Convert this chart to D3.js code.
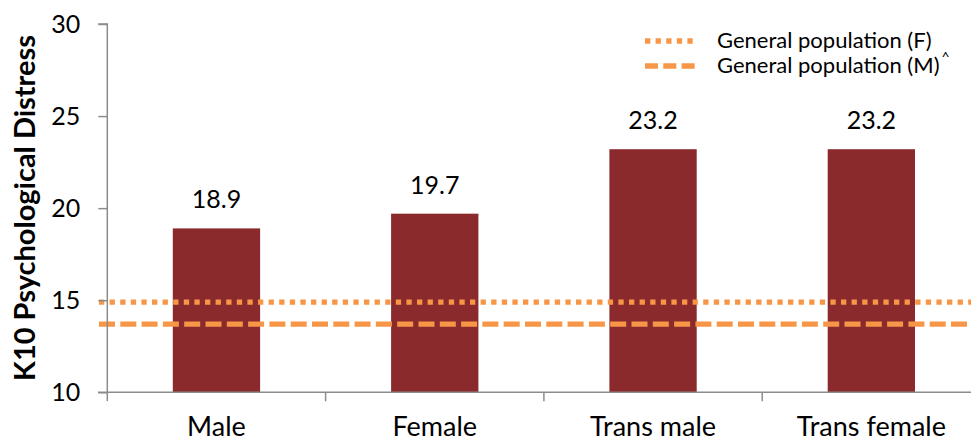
<!DOCTYPE html>
<html><head><meta charset="utf-8">
<script src="https://cdn.jsdelivr.net/npm/d3@7"></script>
<style>body{margin:0;background:#fff}svg{display:block}text{font-family:Lato,"Open Sans",sans-serif;fill:#000}</style>
</head><body>
<script>
const categories = ["Male","Female","Trans male","Trans female"];
const values = [18.9,19.7,23.2,23.2];
const refF = 14.9;
const refM = 13.7;
const yTicks = [10,15,20,25,30];
const legendLabels = ["General population (F)","General population (M)"];

const W=971,H=441;
const FONT="Lato,'Open Sans',sans-serif";
const svg=d3.select("body").append("svg").attr("width",W).attr("height",H);
const y=d3.scaleLinear().domain([10,30]).range([392.3,24]);
const x=d3.scaleBand().domain(categories).range([107.3,980.5]).paddingInner(0.6).paddingOuter(0.3);
const axisColor="#8c8c8c", barColor="#8B2A2D", orange="#F79646";

// bars
svg.selectAll("rect.bar").data(values).join("rect").attr("class","bar")
  .attr("x",(d,i)=>x(categories[i])).attr("width",x.bandwidth())
  .attr("y",d=>y(d)).attr("height",d=>y(10)-y(d)).attr("fill",barColor);

// value labels
svg.selectAll("text.val").data(values).join("text").attr("class","val")
  .attr("x",(d,i)=>x(categories[i])+x.bandwidth()/2).attr("y",d=>y(d)-20)
  .attr("text-anchor","middle").attr("font-size",25).text(d=>d.toFixed(1));

// reference lines
svg.append("line").attr("x1",99).attr("x2",W).attr("y1",y(refF)).attr("y2",y(refF))
  .attr("stroke",orange).attr("stroke-width",5.3).attr("stroke-dasharray","5.3,5.3");
svg.append("line").attr("x1",99).attr("x2",W).attr("y1",y(refM)).attr("y2",y(refM))
  .attr("stroke",orange).attr("stroke-width",5.3).attr("stroke-dasharray","16,5.3");

// y axis
const ya=svg.append("g").attr("transform","translate(107.3,0)")
  .call(d3.axisLeft(y).tickValues(yTicks).tickSize(9).tickPadding(18));
ya.select(".domain").attr("stroke",axisColor).attr("stroke-width",1.5).attr("d","M-9,24H0V401");
ya.selectAll(".tick line").attr("stroke",axisColor).attr("stroke-width",1.5);
ya.selectAll(".tick text").attr("font-size",25).attr("font-family",FONT).attr("fill","#000");

// x axis
const xa=svg.append("g").attr("transform","translate(0,392.3)")
  .call(d3.axisBottom(x).tickSize(0).tickPadding(25));
xa.select(".domain").attr("stroke",axisColor).attr("stroke-width",1.5).attr("d","M98,0H980");
xa.selectAll(".tick text").attr("font-size",27).attr("font-family",FONT).attr("fill","#000");
const bounds=categories.map(c=>x(c)-x.step()*x.paddingInner()/2).slice(1);
xa.selectAll("line.sep").data(bounds).join("line").attr("class","sep")
  .attr("x1",d=>d).attr("x2",d=>d).attr("y1",0).attr("y2",9)
  .attr("stroke",axisColor).attr("stroke-width",1.5);

// y title
svg.append("text").attr("transform","translate(35,208) rotate(-90)")
  .attr("text-anchor","middle").attr("font-size",29).attr("font-weight","bold")
  .text("K10 Psychological Distress");

// legend
const lg=svg.append("g");
lg.append("line").attr("x1",645).attr("x2",693).attr("y1",41).attr("y2",41)
  .attr("stroke",orange).attr("stroke-width",5.3).attr("stroke-dasharray","5.3,5.3");
lg.append("line").attr("x1",645).attr("x2",697).attr("y1",66).attr("y2",66)
  .attr("stroke",orange).attr("stroke-width",5.3).attr("stroke-dasharray","13,5.3");
lg.append("text").attr("x",717).attr("y",48).attr("font-size",22).text(legendLabels[0]);
const t2=lg.append("text").attr("x",717).attr("y",73).attr("font-size",22).text(legendLabels[1]);
lg.append("text").attr("x",717+t2.node().getComputedTextLength()+2).attr("y",62).attr("font-size",14).text("^");
</script>
</body></html>
